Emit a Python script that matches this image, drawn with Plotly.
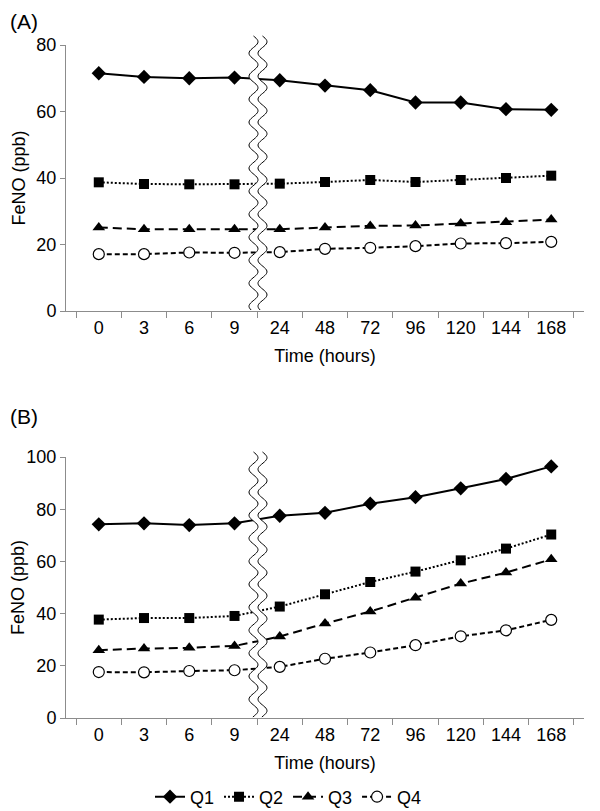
import numpy as np
import plotly.graph_objects as go
from plotly.subplots import make_subplots

times = ["0", "3", "6", "9", "24", "48", "72", "96", "120", "144", "168"]

a_q1 = [71.5, 70.4, 70.0, 70.2, 69.4, 67.8, 66.4, 62.7, 62.7, 60.7, 60.5]
a_q2 = [38.7, 38.2, 38.1, 38.1, 38.3, 38.8, 39.4, 38.8, 39.4, 40.0, 40.7]
a_q3 = [25.1, 24.6, 24.6, 24.6, 24.6, 25.1, 25.6, 25.7, 26.3, 26.7, 27.5]
a_q4 = [17.1, 17.1, 17.6, 17.5, 17.7, 18.7, 19.0, 19.5, 20.3, 20.4, 20.8]

b_q1 = [74.2, 74.6, 73.9, 74.6, 77.5, 78.6, 82.1, 84.6, 88.0, 91.6, 96.4]
b_q2 = [37.7, 38.3, 38.3, 39.1, 42.7, 47.4, 52.1, 56.1, 60.4, 64.9, 70.3]
b_q3 = [26.0, 26.6, 26.9, 27.6, 31.2, 36.2, 40.8, 46.1, 51.5, 55.7, 60.8]
b_q4 = [17.6, 17.5, 18.0, 18.3, 19.6, 22.7, 25.1, 27.9, 31.3, 33.6, 37.6]

series_names = ["Q1", "Q2", "Q3", "Q4"]
styles = [
    dict(line=dict(color="black", width=2, dash="solid"),
         marker=dict(symbol="diamond", size=11, color="black")),
    dict(line=dict(color="black", width=2, dash="2px,2px"),
         marker=dict(symbol="square", size=10, color="black")),
    dict(line=dict(color="black", width=2, dash="9px,5px"),
         marker=dict(symbol="triangle-up", size=11, color="black")),
    dict(line=dict(color="black", width=2, dash="5px,3px"),
         marker=dict(symbol="circle", size=11, color="white",
                     line=dict(color="black", width=1.2))),
]

# page offset (default body margin) compensation
OFF = 8
W, H = 600 - OFF, 811 - OFF
ML = 66 - OFF
MR = W - (584 - OFF)
MT = 45 - OFF
MB = H - (718 - OFF)
PW, PH = W - ML - MR, H - MT - MB

def py(ref_y):
    return (H - MB - (ref_y - OFF)) / PH

def px(ref_x):
    return ((ref_x - OFF) - ML) / PW

dom_a = [py(311), py(45)]
dom_b = [py(718), py(457)]

fig = make_subplots(rows=2, cols=1)
for i, (ya, yb) in enumerate(zip([a_q1, a_q2, a_q3, a_q4], [b_q1, b_q2, b_q3, b_q4])):
    fig.add_trace(go.Scatter(x=times, y=ya, mode="lines+markers", name=series_names[i],
                             legendgroup=series_names[i], showlegend=False, **styles[i]),
                  row=1, col=1)
    fig.add_trace(go.Scatter(x=times, y=yb, mode="lines+markers", name=series_names[i],
                             legendgroup=series_names[i], showlegend=True, **styles[i]),
                  row=2, col=1)

FONT = "Liberation Sans, Arial, sans-serif"
axis_font = dict(family=FONT, size=18, color="black")
xcommon = dict(type="category", tickson="boundaries", ticks="outside", ticklen=6,
               tickcolor="#8c8c8c", showline=True, linecolor="#8c8c8c", linewidth=1,
               showgrid=False, zeroline=False, tickfont=axis_font, automargin=False,
               title=dict(text="Time (hours)", font=axis_font, standoff=12))
ycommon = dict(ticks="outside", ticklen=5, tickcolor="#8c8c8c", showline=True,
               linecolor="#8c8c8c", linewidth=1, showgrid=False, zeroline=False,
               tickfont=axis_font, dtick=20, automargin=False,
               title=dict(text="FeNO (ppb)", font=axis_font, standoff=6))

fig.update_xaxes(**xcommon)
fig.update_yaxes(**ycommon)
fig.update_layout(
    xaxis=dict(domain=[0, 1]), xaxis2=dict(domain=[0, 1]),
    yaxis=dict(domain=dom_a, range=[0, 80]),
    yaxis2=dict(domain=dom_b, range=[0, 100]),
)

# wavy axis-break markers (decoration)
def break_shapes(top_px, bot_px):
    cx = 258
    half_gap = 4.5
    amp = 4.5
    period = 23.0
    ys = np.linspace(top_px, bot_px, 240)
    off = amp * np.sin(2 * np.pi * (ys - top_px) / period)
    left = [(px(cx - half_gap + o), py(y)) for o, y in zip(off, ys)]
    right = [(px(cx + half_gap + o), py(y)) for o, y in zip(off, ys)]
    def path(pts):
        return "M" + " L".join(f"{x:.5f},{y:.5f}" for x, y in pts)
    poly = path(left + right[::-1]) + " Z"
    return [
        dict(type="path", xref="paper", yref="paper", path=poly,
             fillcolor="white", line=dict(width=0), layer="above"),
        dict(type="path", xref="paper", yref="paper", path=path(left),
             line=dict(color="black", width=1), layer="above"),
        dict(type="path", xref="paper", yref="paper", path=path(right),
             line=dict(color="black", width=1), layer="above"),
    ]

shapes = break_shapes(36, 310) + break_shapes(452, 717)

fig.update_layout(
    width=W, height=H,
    margin=dict(l=ML, r=MR, t=MT, b=MB, autoexpand=False),
    paper_bgcolor="white", plot_bgcolor="white",
    font=axis_font,
    shapes=shapes,
    showlegend=True,
    legend=dict(orientation="h", x=px(150), xanchor="left", y=py(797), yanchor="middle",
                font=axis_font, itemwidth=30, tracegroupgap=0),
    annotations=[
        dict(text="(A)", x=px(OFF), y=py(OFF), xref="paper", yref="paper", xanchor="left", yanchor="top",
             showarrow=False, font=dict(family=FONT, size=21, color="black")),
        dict(text="(B)", x=px(OFF), y=py(403), xref="paper", yref="paper", xanchor="left", yanchor="top",
             showarrow=False, font=dict(family=FONT, size=21, color="black")),
    ],
)

fig.write_html("out.html")
